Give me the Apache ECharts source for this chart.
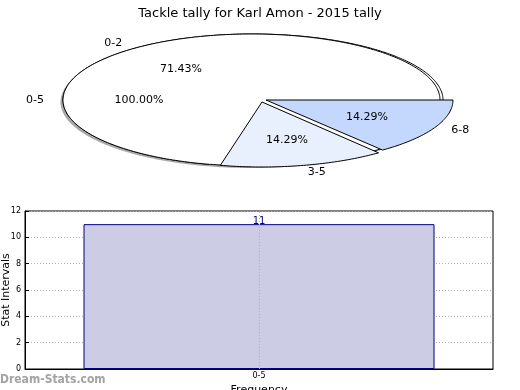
<!DOCTYPE html>
<html><head><meta charset="utf-8">
<script src="https://cdn.jsdelivr.net/npm/echarts@6/dist/echarts.min.js"></script>
<style>html,body{margin:0;padding:0;background:#fff}#c{width:520px;height:390px}</style>
</head><body><div id="c"></div>
<script>
const titleText = 'Tackle tally for Karl Amon - 2015 tally';
const outerLabels = ['0-5'];
const outerValues = [100.00];
const innerLabels = ['0-2', '3-5', '6-8'];
const innerValues = [71.43, 14.29, 14.29];
const barCategories = ['0-5'];
const barValues = [11];
const yTicks = [0, 2, 4, 6, 8, 10, 12];

const FONT = '"DejaVu Sans", "Liberation Sans", sans-serif';
const RX = 190, RY = 66; // px per data unit of the (hidden) pie grid
const outerGeom = [{dx: 0, dy: 0, rx: 190, ry: 66, fill: '#ffffff', radial: true}];
const innerGeom = [
  {dx: -1.5, dy: 0, rx: 188.5, ry: 66, fill: '#ffffff', radial: false},
  {dx: 9, dy: 2, rx: 187, ry: 65, fill: '#e9f0fd', radial: true},
  {dx: 13, dy: 0, rx: 187, ry: 64, fill: '#c4d8fe', radial: true}
];

function pts(api, g, a0, a1, withCentre, sdx, sdy) {
  const cx = (g.dx + (sdx || 0)) / RX, cy = -(g.dy + (sdy || 0)) / RY;
  const sx = g.rx / RX, sy = g.ry / RY;
  const out = [];
  if (withCentre) out.push(api.coord([cx, cy]));
  const n = Math.max(12, Math.ceil(Math.abs(a1 - a0) / (Math.PI / 180)));
  for (let i = 0; i <= n; i++) {
    const a = a0 + (a1 - a0) * i / n;
    out.push(api.coord([cx + sx * Math.cos(a), cy + sy * Math.sin(a)]));
  }
  return out;
}
function labelPos(api, g, a, f) {
  const cx = g.dx / RX, cy = -g.dy / RY;
  return api.coord([cx + f * g.rx / RX * Math.cos(a), cy + f * g.ry / RY * Math.sin(a)]);
}
function txt(p, s, align) {
  return {type: 'text', style: {x: p[0], y: p[1], text: s, fill: '#000', font: '11px ' + FONT, align: align, verticalAlign: 'middle'}};
}
function angles(values, i, v) {
  const total = values.reduce((a, b) => a + b, 0);
  let start = 0;
  for (let k = 0; k < i; k++) start += values[k];
  return [start / total * 2 * Math.PI, (start + v) / total * 2 * Math.PI];
}
function makeShapes(values, geom, withShadow) {
  return function (params, api) {
    const i = params.dataIndex;
    const [a0, a1] = angles(values, i, api.value(0));
    const g = geom[i];
    const full = (a1 - a0) >= 2 * Math.PI - 1e-6;
    const children = [];
    if (withShadow) {
      children.push({type: 'polygon', shape: {points: pts(api, g, a0, a1, !full, -2.5, 2)}, style: {fill: '#8c8c8c', stroke: null, opacity: 0.75}});
    }
    if (g.radial === false) {
      children.push({type: 'polygon', shape: {points: pts(api, g, a0, a1, true)}, style: {fill: g.fill, stroke: null}});
      children.push({type: 'polyline', shape: {points: pts(api, g, a0, a1, false)}, style: {fill: null, stroke: '#000', lineWidth: 1}});
    } else {
      children.push({type: 'polygon', shape: {points: pts(api, g, a0, a1, !full)}, style: {fill: g.fill, stroke: '#000', lineWidth: 1}});
    }
    return {type: 'group', children: children};
  };
}
function makeLabels(values, labels, geom) {
  return function (params, api) {
    const i = params.dataIndex;
    const v = api.value(0);
    const [a0, a1] = angles(values, i, v);
    const g = geom[i];
    const mid = (a0 + a1) / 2;
    return {type: 'group', children: [
      txt(labelPos(api, g, mid, 1.1), labels[i], Math.cos(mid) > 0 ? 'left' : 'right'),
      txt(labelPos(api, g, mid, 0.6), v.toFixed(2) + '%', 'center')
    ]};
  };
}

const chart = echarts.init(document.getElementById('c'), null, {renderer: 'canvas'});
chart.setOption({
  animation: false,
  backgroundColor: '#fff',
  textStyle: {fontFamily: FONT},
  title: {text: titleText, left: 'center', top: 2, textStyle: {fontFamily: FONT, fontSize: 13, fontWeight: 'normal', color: '#000'}},
  graphic: [{type: 'text', left: 0, top: 374, style: {text: 'Dream-Stats.com', font: 'bold 12px "DejaVu Sans Condensed", "DejaVu Sans", sans-serif', fill: '#a3a3a3'}}],
  grid: [
    {left: 63, top: 34, width: 380, height: 132, show: false, outerBoundsMode: 'none', containLabel: false},
    {left: 25, top: 211, width: 468, height: 158, show: true, borderColor: '#000', borderWidth: 1, backgroundColor: 'transparent', outerBoundsMode: 'none', containLabel: false}
  ],
  xAxis: [
    {gridIndex: 0, type: 'value', min: -1, max: 1, show: false},
    {gridIndex: 1, type: 'category', data: barCategories,
      axisLine: {show: true, lineStyle: {color: '#000'}},
      axisTick: {show: true, inside: true, alignWithLabel: true, length: 4, lineStyle: {color: '#000'}},
      axisLabel: {fontSize: 8, color: '#000', margin: 3, fontFamily: FONT},
      name: 'Frequency', nameLocation: 'middle', nameGap: 16, nameMoveOverlap: false,
      nameTextStyle: {fontSize: 11, color: '#000', fontFamily: FONT},
      splitLine: {show: false}}
  ],
  yAxis: [
    {gridIndex: 0, type: 'value', min: -1, max: 1, show: false},
    {gridIndex: 1, type: 'value', min: yTicks[0], max: yTicks[yTicks.length - 1], interval: yTicks[1] - yTicks[0],
      axisLine: {show: true, lineStyle: {color: '#000'}},
      axisTick: {show: true, inside: true, length: 4, lineStyle: {color: '#000'}},
      axisLabel: {fontSize: 8, color: '#000', margin: 4, fontFamily: FONT},
      splitLine: {show: true, lineStyle: {color: '#b0b0b0', type: [1, 2], width: 1}},
      name: 'Stat Intervals', nameLocation: 'middle', nameGap: 13, nameMoveOverlap: false,
      nameTextStyle: {fontSize: 11, color: '#000', fontFamily: FONT}}
  ],
  series: [
    {type: 'custom', coordinateSystem: 'cartesian2d', xAxisIndex: 0, yAxisIndex: 0, silent: true, z: 2,
      data: outerValues.map(v => [v]), renderItem: makeShapes(outerValues, outerGeom, true)},
    {type: 'custom', coordinateSystem: 'cartesian2d', xAxisIndex: 0, yAxisIndex: 0, silent: true, z: 3,
      data: innerValues.map(v => [v]), renderItem: makeShapes(innerValues, innerGeom, false)},
    {type: 'custom', coordinateSystem: 'cartesian2d', xAxisIndex: 0, yAxisIndex: 0, silent: true, z: 4,
      data: outerValues.map(v => [v]), renderItem: makeLabels(outerValues, outerLabels, outerGeom)},
    {type: 'custom', coordinateSystem: 'cartesian2d', xAxisIndex: 0, yAxisIndex: 0, silent: true, z: 4,
      data: innerValues.map(v => [v]), renderItem: makeLabels(innerValues, innerLabels, innerGeom)},
    {type: 'bar', xAxisIndex: 1, yAxisIndex: 1, data: barValues, barWidth: '75%',
      itemStyle: {color: '#ccccE5', borderColor: '#000080', borderWidth: 1},
      label: {show: true, position: 'top', distance: -2, color: '#000080', fontSize: 10, fontFamily: FONT},
      markLine: {silent: true, symbol: 'none', label: {show: false},
        lineStyle: {color: '#b0b0b0', type: [1, 2], width: 1},
        data: [{xAxis: barCategories[0]}]}}
  ]
});
</script></body></html>
